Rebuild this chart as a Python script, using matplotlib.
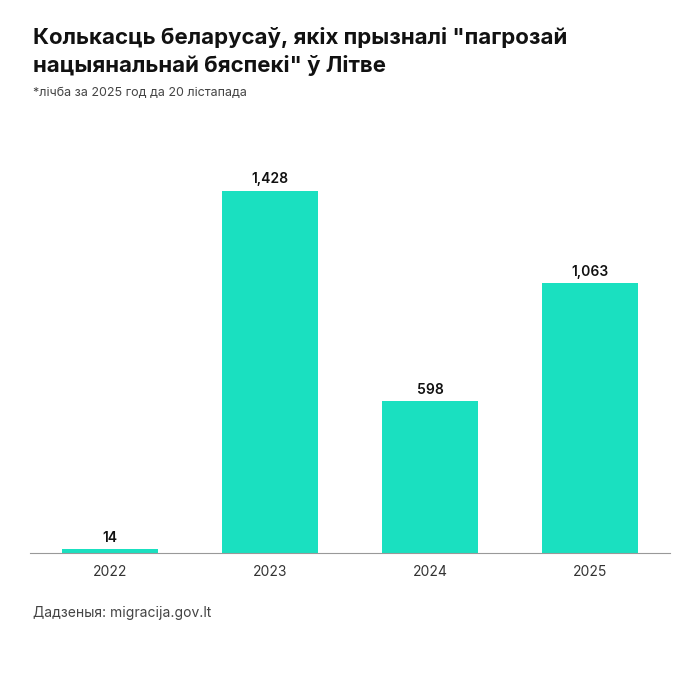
import matplotlib
matplotlib.use("Agg")
import matplotlib.pyplot as plt

plt.rcParams['font.family'] = ['Inter', 'DejaVu Sans']

years = ["2022", "2023", "2024", "2025"]
counts = [14, 1428, 598, 1063]
labels = ["14", "1,428", "598", "1,063"]

fig = plt.figure(figsize=(7, 7), dpi=100)
ax = fig.add_axes([0.043, 0.21, 0.914, 0.59])
x = range(len(years))
ax.bar(x, counts, width=0.6, color="#1ae0c0")
for i, v in enumerate(counts):
    ax.text(i, v + 18, labels[i], ha="center", va="bottom", fontsize=10, fontweight="semibold", color="#111")

ax.set_xlim(-0.5, 3.5)
ax.set_ylim(0, 1629)
ax.set_xticks(list(x))
ax.set_xticklabels(years, fontsize=10, color="#333")
ax.tick_params(axis="x", length=0, pad=9)
ax.set_yticks([])
for s in ["top", "right", "left"]:
    ax.spines[s].set_visible(False)
ax.spines["bottom"].set_color("#999")

fig.text(0.047, 0.947, "Колькасць беларусаў, якіх прызналі \"пагрозай", fontsize=16, fontweight="bold", va="center", color="#111")
fig.text(0.047, 0.907, "нацыянальнай бяспекі\" ў Літве", fontsize=16, fontweight="bold", va="center", color="#111")
fig.text(0.047, 0.867, "*лічба за 2025 год да 20 лістапада", fontsize=9, va="center", color="#444")
fig.text(0.047, 0.125, "Дадзеныя: migracija.gov.lt", fontsize=10, va="center", color="#444")

fig.savefig("out.png", dpi=100)
